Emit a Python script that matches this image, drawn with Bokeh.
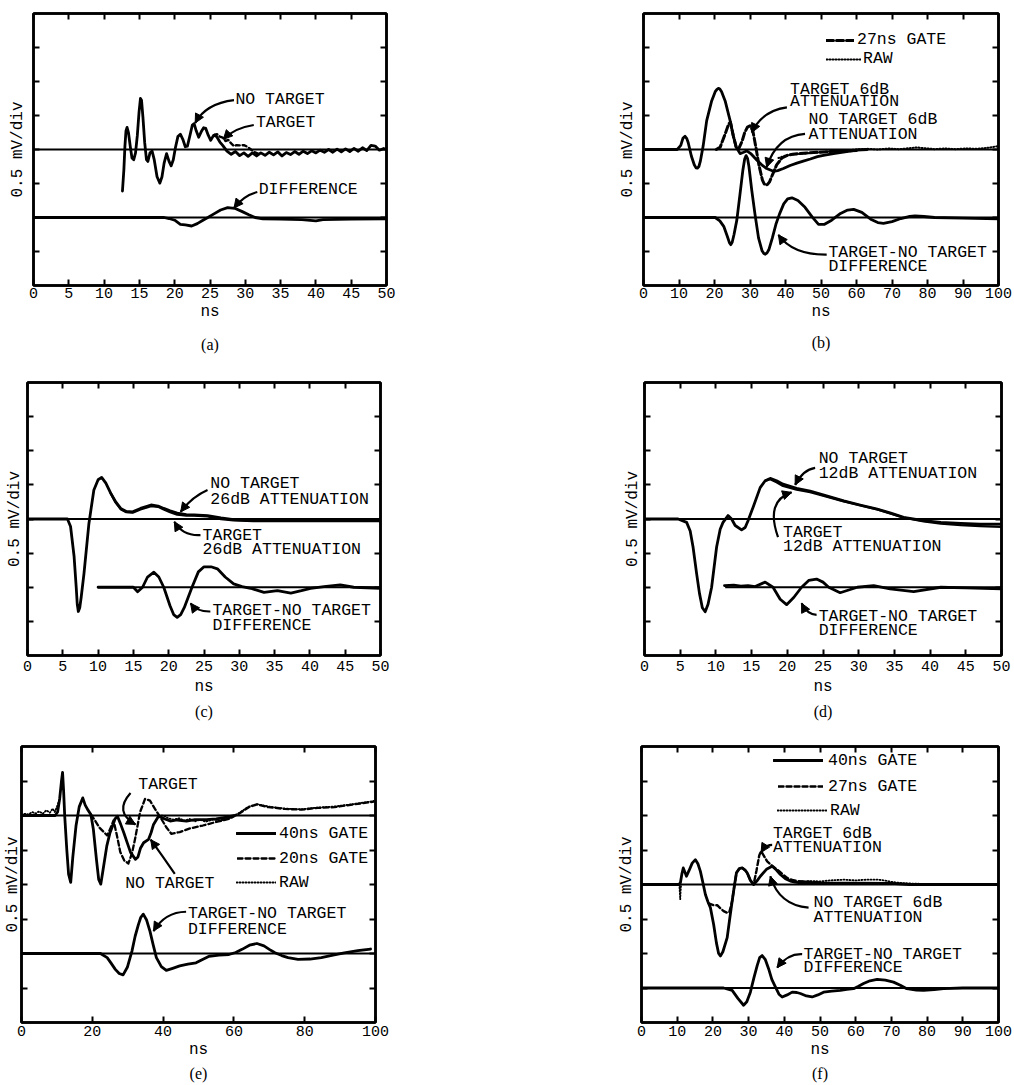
import numpy as np
from bokeh.plotting import figure
from bokeh.layouts import column, row
from bokeh.models import (LinearAxis, FixedTicker, Title, Legend, LegendItem,
                          Arrow, NormalHead)
from bokeh.core.properties import value
from bokeh.embed import file_html
from bokeh.resources import INLINE

MONO = "Liberation Mono"
SERIF = "Liberation Serif"

# ---------------------------------------------------------------------------
# Waveforms, (ns, divisions relative to the trace's own zero line)
# ---------------------------------------------------------------------------
# (a)
a_no_target = [(12.6, -1.22), (12.8, -0.6), (12.95, 0.1), (13.1, 0.55), (13.25, 0.65), (13.45, 0.5),
               (13.7, 0.1), (13.95, -0.25), (14.2, -0.3), (14.45, -0.1), (14.7, 0.4), (14.95, 1.1),
               (15.15, 1.5), (15.3, 1.45), (15.5, 0.95), (15.75, 0.2), (16.0, -0.3), (16.2, -0.35),
               (16.5, -0.1), (16.8, -0.05), (17.1, -0.3), (17.5, -0.8), (17.9, -0.99), (18.2, -0.8),
               (18.5, -0.4), (18.85, -0.12), (19.2, -0.35), (19.5, -0.48), (19.8, -0.3), (20.1, 0.05),
               (20.45, 0.38), (20.8, 0.45), (21.15, 0.3), (21.5, 0.08), (21.8, 0.1), (22.2, 0.45),
               (22.5, 0.72), (22.75, 0.76), (23.05, 0.55), (23.4, 0.36), (23.75, 0.52), (24.1, 0.64),
               (24.4, 0.62), (24.75, 0.42), (25.1, 0.27), (25.4, 0.38), (25.7, 0.43), (26.0, 0.36),
               (26.4, 0.22), (26.8, 0.12), (27.4, -0.05), (28.0, -0.14), (28.6, -0.06), (29.2, -0.18),
               (29.8, -0.1), (30.4, -0.2), (31.0, -0.1), (31.6, -0.19), (32.2, -0.1), (32.8, -0.17),
               (33.4, -0.08), (34.0, -0.16), (34.6, -0.07), (35.2, -0.19), (35.8, -0.09), (36.4, -0.15),
               (37.0, -0.06), (37.6, -0.14), (38.2, -0.05), (38.8, -0.12), (39.4, -0.04), (40.0, -0.1),
               (40.6, -0.02), (41.2, -0.08), (41.8, 0.0), (42.4, -0.08), (43.0, 0.01), (43.6, -0.07),
               (44.2, 0.02), (44.8, -0.06), (45.4, 0.03), (46.0, -0.05), (46.6, 0.05), (47.2, -0.03),
               (47.8, 0.12), (48.4, 0.1), (49.0, -0.02), (49.6, 0.03), (50.0, 0.0)]
a_target = [(25.5, 0.42), (26.0, 0.45), (26.4, 0.38), (26.8, 0.35), (27.2, 0.25), (27.6, 0.28),
            (28.0, 0.18), (28.4, 0.1), (28.8, 0.13), (29.3, 0.12), (29.8, 0.13), (30.3, 0.08),
            (30.8, 0.0), (31.3, -0.08), (31.8, -0.12)]
a_difference = [(0, 0), (18.5, 0.0), (19.2, -0.03), (20.0, -0.08), (20.8, -0.2), (21.5, -0.22),
                (22.4, -0.25), (23.2, -0.18), (24.0, -0.08), (24.7, 0.0), (25.5, 0.1), (26.5, 0.22),
                (27.5, 0.29), (28.5, 0.27), (29.5, 0.18), (30.5, 0.08), (31.4, 0.0), (32.5, -0.04),
                (35, -0.05), (38, -0.06), (40, -0.1), (41, -0.06), (45, -0.05), (50, -0.04)]

# (b)
b_no_target = [(0, 0), (9.5, 0), (10.5, 0.12), (11.1, 0.33), (11.7, 0.39), (12.2, 0.32), (12.6, 0.2),
               (13.5, -0.2), (14.3, -0.45), (14.8, -0.54), (15.2, -0.55), (15.6, -0.5), (16.0, -0.35),
               (16.8, 0.1), (17.8, 0.85), (19.2, 1.43), (20.2, 1.7), (20.7, 1.77), (21.1, 1.8), (21.5, 1.78),
               (22.0, 1.7), (23.0, 1.43), (24.4, 0.85), (25.3, 0.4), (26.1, 0.07), (27.2, -0.12), (28.2, -0.08),
               (29.1, -0.04), (30.2, -0.12), (31.9, -0.31), (33.3, -0.45), (34.7, -0.56), (36.6, -0.64),
               (37.8, -0.62), (39.4, -0.56), (41.3, -0.47), (43.2, -0.4), (45, -0.34), (47, -0.28),
               (49, -0.21), (50.7, -0.17), (53.5, -0.12), (56.3, -0.08), (60, -0.02), (63, 0.0)]
b_target_gate27 = [(20.5, 0.0), (21.6, 0.07), (22.8, 0.4), (24.0, 0.75), (24.5, 0.8), (25.3, 0.4),
                   (26.1, 0.07), (26.8, 0.02), (27.8, 0.25), (28.5, 0.5), (29.3, 0.66), (30.0, 0.7),
                   (30.8, 0.55), (31.6, 0.1), (32.5, -0.45), (33.5, -0.9), (34.0, -1.01), (34.5, -1.05),
                   (35.0, -1.02), (35.5, -0.95), (36.5, -0.7), (37.5, -0.45), (39, -0.25), (40.5, -0.17),
                   (42, -0.14), (45, -0.11), (48, -0.09), (51, -0.07), (55, -0.05), (60, -0.03)]
b_raw = [(38, -0.25), (40, -0.18), (42, -0.15), (45, -0.12), (48, -0.1), (50, -0.08), (52, -0.06),
         (55, -0.04), (58, -0.02), (60, 0.0), (63, 0.02), (66, 0.0), (69, 0.03), (72, 0.01), (75, 0.04),
         (77, 0.06), (79, 0.04), (82, 0.01), (85, 0.03), (88, 0.01), (91, 0.03), (94, 0.02), (97, 0.05),
         (100, 0.1)]
b_difference = [(0, 0), (20.2, 0), (21.5, -0.1), (22.6, -0.26), (23.6, -0.55), (24.2, -0.74), (24.6, -0.8),
                (25.0, -0.72), (25.5, -0.5), (26.3, -0.07), (27.2, 0.7), (28.0, 1.4), (28.5, 1.72), (28.9, 1.82),
                (29.3, 1.74), (29.7, 1.5), (30.5, 0.8), (31.4, 0.1), (32.4, -0.6), (33.4, -0.98), (33.9, -1.06),
                (34.3, -1.08), (34.8, -1.04), (35.3, -0.95), (36.3, -0.6), (37.3, -0.2), (38.3, 0.1), (39.5, 0.4),
                (40.6, 0.55), (41.8, 0.58), (43.5, 0.5), (45.5, 0.3), (47.5, 0.02), (49.3, -0.2), (51, -0.2),
                (53, -0.08), (55.5, 0.12), (57.5, 0.22), (59.2, 0.24), (61.5, 0.15), (64, -0.05), (66, -0.15),
                (67.6, -0.17), (70, -0.12), (72.5, -0.03), (75, 0.03), (76.5, 0.05), (79, 0.03), (82, 0.0),
                (90, -0.02), (100, -0.04)]

# (c)
c_no_target = [(0, 0), (5.66, 0), (6.1, -0.22), (6.6, -1.1), (6.9, -2.0), (7.05, -2.5), (7.2, -2.71),
               (7.4, -2.6), (7.6, -2.3), (8.0, -1.6), (8.7, -0.13), (9.4, 0.85), (10.0, 1.15), (10.5, 1.22),
               (11.1, 1.05), (11.8, 0.75), (12.5, 0.5), (13.2, 0.31), (14.0, 0.22), (14.9, 0.21), (16.0, 0.31),
               (17.5, 0.41), (18.5, 0.38), (19.3, 0.31), (20.2, 0.24), (21.2, 0.17), (22.5, 0.13), (23.6, 0.12),
               (25.5, 0.1), (27.4, 0.03), (29.2, -0.02), (32, -0.04), (40, -0.04), (50, -0.04)]
c_target = [(11.8, 0.75), (12.5, 0.48), (13.2, 0.29), (14.0, 0.2), (14.9, 0.19), (16.0, 0.28), (17.5, 0.38),
            (18.5, 0.36), (19.3, 0.28), (20.2, 0.2), (21.2, 0.13), (22.5, 0.1), (23.6, 0.1), (25.5, 0.08),
            (27.4, 0.0), (29.2, -0.04), (32, -0.06), (40, -0.06), (50, -0.06)]
c_difference = [(10, 0), (15.0, 0), (15.6, -0.13), (16.3, 0.0), (17.0, 0.3), (17.9, 0.44), (18.6, 0.3),
                (19.3, 0.0), (20.2, -0.55), (20.7, -0.8), (21.2, -0.88), (21.7, -0.8), (22.2, -0.6), (23.3, 0.0),
                (24.2, 0.45), (25.0, 0.6), (26.0, 0.6), (26.9, 0.54), (28, 0.3), (29.2, 0.1), (30.4, 0.02),
                (31.6, -0.03), (33.5, -0.15), (35.4, -0.1), (37.3, -0.17), (38.8, -0.1), (40.1, -0.03),
                (42, 0.02), (44.3, 0.07), (46.2, 0.0), (50, -0.03)]

# (d)
d_no_target = [(0, 0), (4.7, 0), (5.9, -0.1), (6.4, -0.35), (6.8, -0.82), (7.3, -1.6), (7.7, -2.18),
               (8.1, -2.6), (8.5, -2.72), (8.9, -2.5), (9.4, -2.0), (10.1, -0.82), (10.6, -0.3), (11.0, -0.1),
               (11.7, 0.1), (12.2, 0.0), (12.7, -0.19), (13.6, -0.32), (14.1, -0.25), (14.5, -0.05),
               (15.2, 0.34), (16.2, 0.92), (16.9, 1.12), (17.6, 1.19), (18.5, 1.12), (19.4, 1.02), (21.3, 0.9),
               (23.2, 0.82), (25.5, 0.68), (27.9, 0.53), (30.2, 0.41), (32.6, 0.29), (34.5, 0.17), (36.3, 0.05),
               (39.1, -0.05), (41.5, -0.1), (44.3, -0.13), (47, -0.15), (50, -0.15)]
d_target = [(16.9, 1.12), (17.6, 1.17), (18.5, 1.08), (19.4, 0.97), (21.3, 0.86), (23.2, 0.79), (25.5, 0.66),
            (27.9, 0.52), (30.2, 0.4), (32.6, 0.28), (34.5, 0.16), (36.3, 0.04), (39.1, -0.07), (41.5, -0.13),
            (44.3, -0.18), (47, -0.21), (50, -0.23)]
d_difference = [(11.2, 0.05), (12.5, 0.06), (13.5, 0.03), (14.5, 0.05), (15.5, 0.02), (16.9, 0.15), (18.0, 0.0),
                (19.0, -0.35), (19.9, -0.51), (20.9, -0.3), (22.0, 0.0), (23.0, 0.2), (24.1, 0.24), (25.0, 0.15),
                (25.8, 0.0), (27.4, -0.16), (28.6, -0.08), (29.8, 0.0), (32.1, 0.05), (34.4, -0.05),
                (37.7, -0.13), (41.5, 0.0), (45, -0.02), (50, -0.05)]

# (e)
e_gate40 = [(0, 0), (9.5, 0), (10.2, 0.1), (10.8, 0.5), (11.3, 1.0), (11.6, 1.25), (11.9, 0.7), (12.2, 0.0),
            (12.8, -1.0), (13.3, -1.7), (13.9, -1.94), (14.5, -1.2), (15.4, -0.3), (16.3, 0.25), (17.3, 0.51),
            (18.0, 0.3), (18.7, 0.17), (19.6, 0.03), (20.3, -0.4), (21.2, -1.3), (21.8, -1.85), (22.4, -1.99),
            (23.0, -1.6), (24.1, -0.88), (25.0, -0.5), (25.7, -0.31), (26.4, -0.1), (27.1, -0.02), (28.0, -0.25),
            (28.9, -0.5), (29.9, -0.8), (30.8, -1.07), (32.2, -1.27), (32.9, -1.2), (33.6, -0.95), (34.5, -0.79),
            (35.9, -0.69), (36.6, -0.5), (37.3, -0.26), (38.7, -0.02), (40.5, -0.1), (42, -0.16), (44, -0.13),
            (46.6, -0.16), (49, -0.12), (52.2, -0.12), (55, -0.1), (58, -0.05), (60, 0.0)]
e_gate20 = [(19.6, 0.03), (20.5, -0.1), (22.0, -0.35), (24.2, -0.58), (25.0, -0.4), (26.0, -0.14), (27.0, -0.6),
            (27.9, -1.06), (29.0, -1.3), (30.2, -1.39), (31.2, -1.1), (32.1, -0.67), (33.5, 0.1), (34.9, 0.48),
            (36.3, 0.43), (37.7, 0.19), (39.5, -0.1), (40.9, -0.34), (42.3, -0.53), (44.7, -0.48), (47.4, -0.38),
            (51.2, -0.29), (54.9, -0.19), (58.6, -0.1), (61.4, 0.05), (64.2, 0.24), (66.5, 0.32), (69.8, 0.24),
            (74.4, 0.19), (79.1, 0.17), (83.7, 0.22), (88.4, 0.24), (93, 0.31), (99.5, 0.4)]
e_raw_early = [(0, 0.02), (1, 0.05), (2, 0.03), (3, 0.1), (4, 0.06), (5, 0.12), (6, 0.05), (7, 0.15), (8, 0.08),
               (8.8, 0.2), (9.4, 0.1), (10.0, 0.25), (10.5, 0.4)]
e_raw_mid = [(38.7, -0.02), (40, 0.0), (41.5, -0.08), (43, -0.12), (44.5, -0.08), (46, -0.15), (47.5, -0.1),
             (49, -0.17), (50.5, -0.12), (52, -0.18), (54, -0.12), (56, -0.14), (58, -0.1), (60, -0.02)]
e_raw_late = [(55, -0.18), (58.6, -0.08), (61.4, 0.07), (64.2, 0.26), (66.5, 0.33), (69.8, 0.26), (74.4, 0.2),
              (79.1, 0.18), (83.7, 0.23), (88.4, 0.26), (93, 0.32), (99.5, 0.42)]
e_difference = [(0, 0), (22.3, 0), (24.2, -0.12), (25.3, -0.28), (26.5, -0.46), (27.6, -0.58), (28.7, -0.62),
                (29.9, -0.4), (31.2, 0.07), (32.1, 0.5), (33.0, 0.83), (33.7, 1.05), (34.4, 1.14), (35.3, 0.98),
                (36.3, 0.64), (37.2, 0.25), (38.1, -0.12), (39.5, -0.38), (40.9, -0.49), (42.7, -0.43),
                (44.7, -0.36), (47, -0.31), (49.3, -0.27), (51, -0.18), (53, -0.08), (55.8, -0.05), (58.6, -0.03),
                (60.5, 0.03), (62.3, 0.12), (64.4, 0.24), (66.5, 0.29), (68.5, 0.22), (70, 0.12), (71.6, 0.02),
                (73.5, -0.06), (75.3, -0.12), (78.1, -0.17), (81.5, -0.16), (84.7, -0.12), (88, -0.05),
                (91.2, 0.02), (95, 0.08), (98.6, 0.13)]

# (f)
f_gate40 = [(0, 0), (10.4, 0), (10.9, 0.05), (11.3, 0.3), (11.7, 0.48), (12.2, 0.35), (12.6, 0.24), (13.3, 0.4),
            (14.2, 0.62), (15.1, 0.72), (15.8, 0.6), (16.5, 0.38), (17.2, 0.05), (17.9, -0.29), (18.6, -0.5),
            (19.3, -0.67), (20.2, -1.15), (21.0, -1.7), (21.6, -2.0), (22.1, -2.07), (22.8, -1.95), (24.0, -1.54),
            (24.7, -1.0), (25.4, -0.48), (26.0, -0.05), (26.6, 0.34), (27.4, 0.46), (28.2, 0.48), (29.0, 0.42),
            (29.6, 0.34), (30.5, 0.12), (31.4, 0.0), (32.3, 0.1), (33.3, 0.24), (35.0, 0.44), (36.6, 0.53),
            (37.8, 0.42), (38.9, 0.29), (40.3, 0.17), (41.7, 0.1), (43, 0.07), (44.5, 0.05), (50, 0.04),
            (60, 0.04), (70, 0.03), (75, 0.0), (100, 0.0)]
f_gate27 = [(18.8, -0.55), (20.2, -0.6), (21.2, -0.6), (22.2, -0.7), (23.0, -0.77), (24.0, -0.82), (24.6, -0.8),
            (25.0, -0.65), (25.4, -0.48), (26.0, -0.05), (26.6, 0.34), (27.4, 0.46), (28.2, 0.48), (29.0, 0.42),
            (29.6, 0.34), (30.5, 0.12), (31.4, 0.0), (32.2, 0.4), (33.0, 0.85), (33.5, 0.96), (34.0, 0.88),
            (35.2, 0.67), (36.5, 0.55), (38, 0.43), (39.5, 0.3), (40.8, 0.19), (42.2, 0.13), (43.6, 0.1),
            (46, 0.08), (50, 0.06)]
f_raw_glitch = [(10.6, 0.0), (10.85, -0.43), (10.95, -0.2), (11.1, 0.0)]
f_raw_tail = [(44, 0.08), (47.3, 0.1), (50, 0.09), (53, 0.12), (56.6, 0.14), (60, 0.12), (63, 0.14), (66, 0.14),
              (68, 0.12), (69.7, 0.08), (72, 0.05), (75.3, 0.03), (78, 0.02)]
f_difference = [(0, 0), (23, 0), (25.4, -0.07), (27.0, -0.3), (28.6, -0.5), (29.5, -0.4), (30.5, -0.12),
                (31.5, 0.3), (32.4, 0.65), (33.1, 0.88), (33.8, 0.94), (34.7, 0.82), (35.6, 0.56), (36.5, 0.25),
                (37.5, 0.03), (38.5, -0.18), (39.4, -0.26), (40.8, -0.2), (42.2, -0.12), (43.5, -0.13),
                (44.5, -0.16), (46.2, -0.23), (47.8, -0.26), (49.4, -0.2), (51, -0.12), (53.3, -0.09),
                (55.7, -0.07), (57.5, -0.04), (59.4, -0.02), (60.8, 0.05), (62.2, 0.13), (64, 0.21), (66, 0.25),
                (68.3, 0.23), (70.6, 0.17), (72.5, 0.08), (74.3, -0.02), (77, -0.06), (79, -0.07), (82, -0.05),
                (84.6, -0.02), (90, 0.0), (100, 0.0)]

# zero lines of each trace: (start ns, end ns, level in divisions)
a_zero_lines = [(0, 50, 0), (0, 50, -2)]
b_zero_lines = [(0, 100, 0), (0, 100, -2)]
c_zero_lines = [(0, 50, 0), (10, 50, -2)]
d_zero_lines = [(0, 50, 0), (11.3, 50, -2)]
e_zero_lines = [(0, 100, 2), (0, 100, -2)]
f_zero_lines = [(0, 100, 0), (0, 100, -3)]

Y_TICKS = [-3, -2, -1, 0, 1, 2, 3]
TICKS_50 = list(range(0, 51, 5))
TICKS_100_10 = list(range(0, 101, 10))
TICKS_100_20 = list(range(0, 101, 20))

THICK = 2.8
ZERO_W = 2.2


def xy(series, offset=0.0):
    xs = np.array([s[0] for s in series], dtype=float)
    ys = np.array([s[1] for s in series], dtype=float) + offset
    return xs, ys


def dress_axis(axis, ticks, show_labels, label_gap=2):
    axis.ticker = FixedTicker(ticks=ticks)
    axis.axis_line_width = 2.5
    axis.axis_line_color = "black"
    axis.major_tick_in = 6
    axis.major_tick_out = 0
    axis.major_tick_line_width = 2
    axis.major_tick_line_color = "black"
    axis.minor_tick_line_color = None
    if show_labels:
        axis.major_label_text_font = MONO
        axis.major_label_text_font_size = "15px"
        axis.major_label_text_color = "black"
        axis.major_label_standoff = label_gap
    else:
        # tick marks only on the frame edges without numbers
        axis.major_label_text_font_size = "0px"
        axis.major_label_standoff = 0


def make_panel(xmax, xticks, width, height, left, right, top, bottom, ylab_standoff,
               caption, cap_offset, cap_gap, tick_gap, ns_gap):
    p = figure(width=width, height=height, x_range=(0, xmax), y_range=(-4, 4),
               output_backend="svg", toolbar_location=None, tools="",
               min_border_left=left, min_border_right=right,
               min_border_top=top, min_border_bottom=bottom,
               background_fill_color="white", border_fill_color="white",
               outline_line_color="black", outline_line_width=2.5)
    p.grid.visible = False

    xb = p.below[0]
    dress_axis(xb, xticks, True, tick_gap)
    xb.axis_label = "ns"
    xb.axis_label_text_font = MONO
    xb.axis_label_text_font_size = "16px"
    xb.axis_label_text_font_style = "normal"
    xb.axis_label_text_color = "black"
    xb.axis_label_standoff = ns_gap

    yl = p.left[0]
    dress_axis(yl, Y_TICKS, False)
    yl.axis_label = "0.5 mV/div"
    yl.axis_label_text_font = MONO
    yl.axis_label_text_font_size = "16px"
    yl.axis_label_text_font_style = "normal"
    yl.axis_label_text_color = "black"
    yl.axis_label_standoff = ylab_standoff

    top_axis = LinearAxis()
    dress_axis(top_axis, xticks, False)
    p.add_layout(top_axis, "above")
    right_axis = LinearAxis()
    dress_axis(right_axis, Y_TICKS, False)
    p.add_layout(right_axis, "right")

    p.add_layout(Title(text=caption, align="center", text_font=SERIF, text_font_size="16px",
                       text_font_style="normal", text_color="black",
                       offset=cap_offset, standoff=cap_gap), "below")
    return p


def zero_lines(p, spans):
    p.segment(x0=[s[0] for s in spans], x1=[s[1] for s in spans],
              y0=[s[2] for s in spans], y1=[s[2] for s in spans],
              line_color="black", line_width=ZERO_W)


def trace(p, series, offset=0.0, dash="solid", width=THICK):
    xs, ys = xy(series, offset)
    return p.line(xs, ys, line_color="black", line_width=width, line_dash=dash,
                  line_join="round", line_cap="round")


def notes(p, items):
    p.text(x=[i[1] for i in items], y=[i[2] for i in items], text=[i[0] for i in items],
           text_font=value(MONO), text_font_size="16.5px", text_color="black",
           text_baseline="middle", text_align="left")


def leader(p, sx, sy, cx, cy, tx, ty):
    p.quadratic(x0=[sx], y0=[sy], cx=[cx], cy=[cy], x1=[tx], y1=[ty],
                line_color="black", line_width=2.2)
    p.add_layout(Arrow(end=NormalHead(size=9, fill_color="black", line_color="black", line_width=1),
                       x_start=cx, y_start=cy, x_end=tx, y_end=ty, line_alpha=0))


def key(p, renderer, label, vx, vy, glyph_w, standoff, row_h=20):
    p.add_layout(Legend(items=[LegendItem(label=label, renderers=[renderer])], location=(vx, vy),
                        padding=0, margin=0, spacing=0, glyph_width=glyph_w, glyph_height=row_h,
                        label_height=row_h, label_width=10, label_standoff=standoff,
                        label_text_font=MONO, label_text_font_size="16.5px", label_text_color="black",
                        border_line_alpha=0, background_fill_alpha=0), "center")


# ---------------------------- (a) ----------------------------
pa = make_panel(50, TICKS_50, 514, 362, 33, 128, 9, 76, 7, "(a)", -16, 20, 2, 2)
zero_lines(pa, a_zero_lines)
trace(pa, a_no_target)
trace(pa, a_target, dash="4 3", width=2.4)
trace(pa, a_difference, offset=-2)
notes(pa, [("NO TARGET", 28.6, 1.46), ("TARGET", 31.5, 0.8), ("DIFFERENCE", 31.9, -1.19)])
leader(pa, 28.4, 1.45, 24.4, 1.35, 22.9, 0.78)
leader(pa, 31.2, 0.72, 28.4, 0.63, 26.9, 0.3)
leader(pa, 31.7, -1.25, 29.8, -1.35, 28.4, -1.72)

# ---------------------------- (b) ----------------------------
pb = make_panel(100, TICKS_100_10, 500, 362, 129, 16, 13, 75, 7, "(b)", -5, 16, 2, 2)
zero_lines(pb, b_zero_lines)
trace(pb, b_no_target)
rb_gate = trace(pb, b_target_gate27, dash="7 3", width=3)
rb_raw = trace(pb, b_raw, dash="1 2", width=2)
trace(pb, b_difference, offset=-2)
notes(pb, [("TARGET 6dB", 41.3, 1.77), ("ATTENUATION", 41.3, 1.4),
           ("NO TARGET 6dB", 46.5, 0.88), ("ATTENUATION", 46.5, 0.44),
           ("TARGET-NO TARGET", 52.1, -3.02), ("DIFFERENCE", 52.1, -3.44)])
leader(pb, 40.4, 1.24, 33.5, 1.15, 30.5, 0.5)
leader(pb, 45.5, 0.46, 37.5, 0.4, 34.7, -0.52)
leader(pb, 51.6, -3.09, 42.0, -3.1, 38.0, -2.51)
key(pb, rb_gate, "27ns GATE", 183, 236, 28, 3, 18)
key(pb, rb_raw, "RAW", 183, 217, 35, 2, 18)

# ---------------------------- (c) ----------------------------
pc = make_panel(50, TICKS_50, 514, 365, 27, 134, 20, 72, 4, "(c)", -15, 4, 5, 4)
zero_lines(pc, c_zero_lines)
trace(pc, c_no_target)
trace(pc, c_target, width=2.4)
trace(pc, c_difference, offset=-2)
notes(pc, [("NO TARGET", 25.9, 1.03), ("26dB ATTENUATION", 25.9, 0.58),
           ("TARGET", 24.8, -0.47), ("26dB ATTENUATION", 24.8, -0.89),
           ("TARGET-NO TARGET", 26.2, -2.69), ("DIFFERENCE", 26.2, -3.11)])
leader(pc, 25.5, 0.85, 23.3, 0.65, 21.7, 0.21)
leader(pc, 24.5, -0.47, 22.0, -0.5, 20.8, -0.08)
leader(pc, 25.9, -2.71, 24.0, -2.72, 23.1, -2.47)

# ---------------------------- (d) ----------------------------
pd_ = make_panel(50, TICKS_50, 500, 365, 130, 13, 19, 71, 3, "(d)", -5, 4, 5, 4)
zero_lines(pd_, d_zero_lines)
trace(pd_, d_no_target)
trace(pd_, d_target, width=2.4)
trace(pd_, d_difference, offset=-2)
notes(pd_, [("NO TARGET", 24.4, 1.77), ("12dB ATTENUATION", 24.4, 1.34),
            ("TARGET", 19.4, -0.39), ("12dB ATTENUATION", 19.4, -0.8),
            ("TARGET-NO TARGET", 24.4, -2.86), ("DIFFERENCE", 24.4, -3.27)])
leader(pd_, 23.9, 1.5, 22.2, 1.45, 21.1, 1.0)
leader(pd_, 18.7, -0.53, 16.9, 0.53, 20.6, 0.78)
leader(pd_, 24.1, -2.81, 22.8, -2.8, 22.0, -2.47)

# ---------------------------- (e) ----------------------------
pe = make_panel(100, TICKS_100_20, 514, 358, 17, 139, 17, 63, 0, "(e)", -6, 2, 3, 2)
zero_lines(pe, e_zero_lines)
re_raw = trace(pe, e_raw_early, offset=2, dash="1 2", width=1.8)
trace(pe, e_raw_mid, offset=2, dash="1 2", width=1.8)
trace(pe, e_raw_late, offset=2, dash="1 2", width=1.8)
re_40 = trace(pe, e_gate40, offset=2)
re_20 = trace(pe, e_gate20, offset=2, dash="5 3", width=2.3)
trace(pe, e_difference, offset=-2)
notes(pe, [("TARGET", 33.0, 2.91), ("NO TARGET", 29.3, 0.03),
           ("TARGET-NO TARGET", 47.0, -0.83), ("DIFFERENCE", 47.0, -1.31)])
leader(pe, 30.8, 2.65, 26.0, 2.1, 32.2, 1.74)
leader(pe, 43.3, 0.31, 40.0, 0.8, 36.5, 1.3)
leader(pe, 46.5, -0.79, 40.5, -0.8, 37.3, -1.35)
key(pe, re_40, "40ns GATE", 215, 179, 40, 3)
key(pe, re_20, "20ns GATE", 216, 154, 39, 3)
key(pe, re_raw, "RAW", 215, 130, 40, 3)

# ---------------------------- (f) ----------------------------
pf = make_panel(100, TICKS_100_10, 500, 358, 127, 16, 19, 62, 6, "(f)", -3, 2, 3, 2)
zero_lines(pf, f_zero_lines)
rf_raw = trace(pf, f_raw_glitch, dash="1 2", width=1.8)
trace(pf, f_raw_tail, dash="1 2", width=1.8)
rf_40 = trace(pf, f_gate40)
rf_27 = trace(pf, f_gate27, dash="5 3", width=2.4)
trace(pf, f_difference, offset=-3)
notes(pf, [("TARGET 6dB", 36.8, 1.49), ("ATTENUATION", 36.8, 1.06),
           ("NO TARGET 6dB", 48.2, -0.53), ("ATTENUATION", 48.2, -0.96),
           ("TARGET-NO TARGET", 45.4, -2.02), ("DIFFERENCE", 45.4, -2.41)])
leader(pf, 36.6, 1.15, 34.8, 1.15, 33.5, 0.93)
leader(pf, 46.8, -0.67, 38.5, -0.6, 36.1, 0.24)
leader(pf, 45.0, -2.02, 41.0, -2.0, 38.0, -2.41)
key(pf, rf_40, "40ns GATE", 132, 252, 50, 5)
key(pf, rf_27, "27ns GATE", 137, 226, 45, 5)
key(pf, rf_raw, "RAW", 136, 202, 50, 3)

layout = column(row(pa, pb), row(pc, pd_), row(pe, pf))
open("out.html", "w").write(file_html(layout, INLINE))
